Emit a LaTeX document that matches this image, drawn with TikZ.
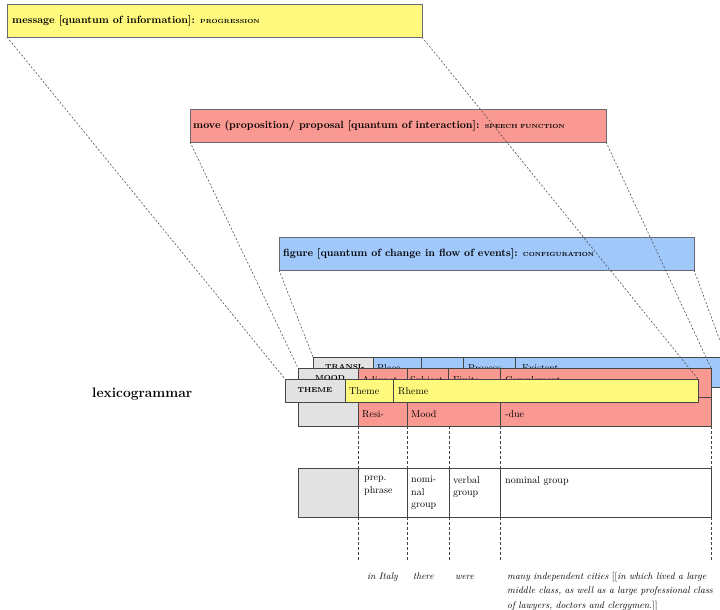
\documentclass[tikz,border=0pt]{standalone}
\usepackage{fontspec}
\usetikzlibrary{calc}
\definecolor{msgyellow}{RGB}{255,250,125}
\definecolor{movered}{RGB}{250,152,146}
\definecolor{figblue}{RGB}{160,200,250}
\definecolor{hdrgray}{RGB}{226,226,226}
\definecolor{rulegray}{RGB}{70,70,70}
\definecolor{boxedge}{RGB}{105,105,115}
\newcommand\smcaps[1]{{\fontsize{5.9}{8}\selectfont #1}}
\newcommand\hdcaps[1]{{\bfseries\fontsize{7.2}{8}\selectfont #1}}
% a table cell: name, fill, x1, y1, x2, y2 (y grows downwards)
\newcommand\cellnode[6]{%
  \node[cell,fill=#2,minimum width={(#5-#3)*1pt},minimum height={(#6-#4)*1pt}] (#1) at (#3,#4) {};}
\begin{document}
\begin{tikzpicture}[x=1pt,y=-1pt,
  metabox/.style={draw=boxedge,line width=0.8pt,anchor=north west,inner sep=0,outer sep=0},
  metatext/.style={anchor=west,inner sep=0,font=\bfseries\fontsize{10.5}{13}\selectfont},
  cell/.style={draw=rulegray,line width=0.7pt,anchor=north west,inner sep=0,outer sep=0},
  celltext/.style={anchor=north west,inner sep=0,align=left,font=\fontsize{10}{12.5}\selectfont},
  midtext/.style={anchor=base west,inner sep=0,font=\fontsize{10}{12}\selectfont},
  wordtext/.style={anchor=base west,inner sep=0,align=left,font=\itshape\fontsize{9.6}{14.5}\selectfont},
  guide/.style={draw=rulegray,line width=0.55pt,dash pattern=on 2pt off 1.8pt},
  tick/.style={draw=rulegray,line width=0.55pt,dash pattern=on 3pt off 2pt}]
\useasboundingbox (0,0) rectangle (720,610);

% metafunction boxes
\node[metabox,fill=msgyellow,minimum width=415pt,minimum height=33pt] (msg) at (7,4) {};
\node[metatext] (msgtext) at (12,21) {message [quantum of information]: \smcaps{PROGRESSION}};
\node[metabox,fill=movered,minimum width=416pt,minimum height=33pt] (move) at (190,109) {};
\node[metatext] (movetext) at (193,126) {move (proposition/ proposal [quantum of interaction]: \smcaps{SPEECH FUNCTION}};
\node[metabox,fill=figblue,minimum width=415pt,minimum height=33pt] (fig) at (279,237) {};
\node[metatext] (figtext) at (283,254) {figure [quantum of change in flow of events]: \smcaps{CONFIGURATION}};

\node[anchor=west,inner sep=0,font=\bfseries\fontsize{13.8}{16}\selectfont] (lexgr) at (92,394) {lexicogrammar};

% transitivity row
\cellnode{trgray}{hdrgray}{313}{357}{373}{387}
\cellnode{trA}{figblue}{373}{357}{421}{387}
\cellnode{trB}{figblue}{421}{357}{463}{387}
\cellnode{trC}{figblue}{463}{357}{515}{387}
\cellnode{trD}{figblue}{515}{357}{726}{387}
\node[anchor=north west,inner sep=0] (trhd) at (325,364.5) {\hdcaps{TRANSI-}};
\node[celltext] (trtA) at (377,364.5) {Place};
\node[celltext] (trtC) at (468,364.5) {Process};
\node[celltext] (trtD) at (522,364.5) {Existent};

% mood rows
\cellnode{mdgray}{hdrgray}{298}{368}{358}{426}
\cellnode{mdA}{movered}{358}{368}{407}{397}
\cellnode{mdB}{movered}{407}{368}{448}{397}
\cellnode{mdC}{movered}{448}{368}{500}{397}
\cellnode{mdD}{movered}{500}{368}{711}{397}
\cellnode{mdE}{movered}{358}{397}{407}{426}
\cellnode{mdF}{movered}{407}{397}{500}{426}
\cellnode{mdG}{movered}{500}{397}{711}{426}
\node[anchor=north west,inner sep=0] (mdhd) at (315,375.5) {\hdcaps{MOOD}};
\node[celltext] (mdtA) at (362,376) {Adjunct};
\node[celltext] (mdtB) at (410,376) {Subject};
\node[celltext] (mdtC) at (453,376) {Finite};
\node[celltext] (mdtD) at (505,376) {Complement};
\node[midtext] (mdtE) at (362,417.5) {Resi-};
\node[midtext] (mdtF) at (411,417.5) {Mood};
\node[midtext] (mdtG) at (505,417.5) {-due};

% theme row
\cellnode{thgray}{hdrgray}{285}{379}{345}{402}
\cellnode{thA}{msgyellow}{345}{379}{393}{402}
\cellnode{thB}{msgyellow}{393}{379}{698}{402}
\node[inner sep=0] (thhd) at (315,390.5) {\hdcaps{THEME}};
\node[midtext] (thtA) at (349,394.5) {Theme};
\node[midtext] (thtB) at (398,394.5) {Rheme};

% group / phrase row
\cellnode{grgray}{hdrgray}{298}{468}{358}{517}
\cellnode{grA}{white}{358}{468}{407}{517}
\cellnode{grB}{white}{407}{468}{449}{517}
\cellnode{grC}{white}{449}{468}{500}{517}
\cellnode{grD}{white}{500}{468}{711}{517}
\node[celltext] (grtA) at (364,476) {prep.\\phrase};
\node[celltext] (grtB) at (411,476) {nomi-\\nal\\group};
\node[celltext] (grtC) at (453,476) {verbal\\group};
\node[celltext] (grtD) at (505,476) {nominal group};

% wording (a multi-line node sits on the baseline of its last line)
\node[wordtext] (w1) at (367,579) {in Italy};
\node[wordtext] (w2) at (413,579) {there};
\node[wordtext] (w3) at (455,579) {were};
\node[wordtext] (w4) at (507,608) {many independent cities {\upshape[[}in which lived a large\\middle class, as well as a large professional class\\of lawyers, doctors and clergymen.{\upshape]]}};

% column guides between the rows
\draw[tick] (mdE.south west) -- (grA.north west);
\draw[tick] (mdF.south west) -- (grB.north west);
\draw[tick] (grC.north west |- mdF.south) -- (grC.north west);
\draw[tick] (mdG.south west) -- (grD.north west);
\draw[tick] (mdG.south east) -- (grD.north east);
\coordinate (e1) at (358,562);
\coordinate (e2) at (407,562);
\coordinate (e3) at (449,562);
\coordinate (e4) at (500,562);
\coordinate (e5) at (711,562);
\draw[tick] (grA.south west) -- (e1);
\draw[tick] (grB.south west) -- (e2);
\draw[tick] (grC.south west) -- (e3);
\draw[tick] (grD.south west) -- (e4);
\draw[tick] (grD.south east) -- (e5);

% projection lines from each metafunction to its row
\draw[guide] (msg.south west) -- (thgray.north west);
\draw[guide] (msg.south east) -- (thB.north east);
\draw[guide] (move.south west) -- (mdgray.north west);
\draw[guide] (move.south east) -- (mdD.north east);
\draw[guide] (fig.south west) -- (trgray.north west);
\draw[guide] (fig.south east) -- (trD.north east);
\end{tikzpicture}
\end{document}
